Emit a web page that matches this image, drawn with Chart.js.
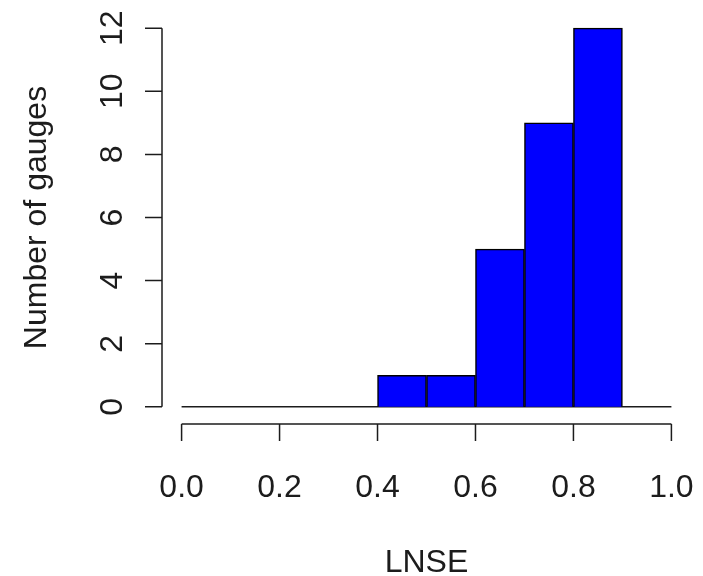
<!DOCTYPE html>
<html lang="en">
<head>
    <meta charset="UTF-8">
    <title>LNSE histogram</title>
    <script src="https://cdn.jsdelivr.net/npm/chart.js"></script>
    <style>
        body {
            margin: 0;
            padding: 0;
            background: #ffffff;
        }
        #histChart {
            display: block;
        }
    </style>
</head>
<body>
<canvas id="histChart" width="703" height="576"></canvas>
<script>
// histogram bins (left edges) and counts
const binEdges = [0.0, 0.1, 0.2, 0.3, 0.4, 0.5, 0.6, 0.7, 0.8, 0.9, 1.0];
const counts = [0, 0, 0, 0, 1, 1, 5, 9, 12, 0];
const xTicks = [0.0, 0.2, 0.4, 0.6, 0.8, 1.0];
const yTicks = [0, 2, 4, 6, 8, 10, 12];
const xTitle = 'LNSE';
const yTitle = 'Number of gauges';

const FONT = '32px "Liberation Sans", Arial, sans-serif';
const INK = '#1c1c1c';

// bars sit at bin centres on a linear axis
const barData = counts.map((c, i) => ({ x: (binEdges[i] + binEdges[i + 1]) / 2, y: c }));
const baseLine = [{ x: binEdges[0], y: 0 }, { x: binEdges[binEdges.length - 1], y: 0 }];

// R style axes: detached from the plot, only spanning the tick range
const rAxes = {
    id: 'rAxes',
    afterDraw(chart) {
        const ctx = chart.ctx;
        const xs = chart.scales.x;
        const ys = chart.scales.y;
        const area = chart.chartArea;
        const tick = 17;

        ctx.save();
        ctx.strokeStyle = INK;
        ctx.fillStyle = INK;
        ctx.lineWidth = 1.5;
        ctx.font = FONT;

        // x axis
        const ay = area.bottom + 2;
        ctx.beginPath();
        ctx.moveTo(xs.getPixelForValue(xTicks[0]), ay);
        ctx.lineTo(xs.getPixelForValue(xTicks[xTicks.length - 1]), ay);
        xTicks.forEach(v => {
            const px = xs.getPixelForValue(v);
            ctx.moveTo(px, ay);
            ctx.lineTo(px, ay + tick);
        });
        ctx.stroke();

        ctx.textAlign = 'center';
        ctx.textBaseline = 'alphabetic';
        xTicks.forEach(v => {
            ctx.fillText(v.toFixed(1), xs.getPixelForValue(v), 497);
        });
        const midX = (xs.getPixelForValue(xTicks[0]) + xs.getPixelForValue(xTicks[xTicks.length - 1])) / 2;
        ctx.fillText(xTitle, midX, 572);

        // y axis
        const ax = area.left;
        ctx.beginPath();
        ctx.moveTo(ax, ys.getPixelForValue(yTicks[0]));
        ctx.lineTo(ax, ys.getPixelForValue(yTicks[yTicks.length - 1]));
        yTicks.forEach(v => {
            const py = ys.getPixelForValue(v);
            ctx.moveTo(ax, py);
            ctx.lineTo(ax - tick, py);
        });
        ctx.stroke();

        yTicks.forEach(v => {
            ctx.save();
            ctx.translate(122, ys.getPixelForValue(v));
            ctx.rotate(-Math.PI / 2);
            ctx.fillText(String(v), 0, 0);
            ctx.restore();
        });

        const midY = (ys.getPixelForValue(yTicks[0]) + ys.getPixelForValue(yTicks[yTicks.length - 1])) / 2;
        ctx.save();
        ctx.translate(46, midY);
        ctx.rotate(-Math.PI / 2);
        ctx.fillText(yTitle, 0, 0);
        ctx.restore();

        ctx.restore();
    }
};

new Chart(document.getElementById('histChart'), {
    type: 'bar',
    data: {
        datasets: [
            {
                type: 'line',
                data: baseLine,
                borderColor: INK,
                borderWidth: 1.5,
                pointRadius: 0,
                order: 2
            },
            {
                data: barData,
                backgroundColor: '#0000ff',
                borderColor: '#000000',
                borderWidth: 1.5,
                barPercentage: 1,
                categoryPercentage: 1,
                order: 1
            }
        ]
    },
    options: {
        responsive: false,
        animation: false,
        layout: {
            padding: { left: 162, right: 12, top: 13, bottom: 154 }
        },
        plugins: {
            legend: { display: false },
            tooltip: { enabled: false }
        },
        scales: {
            x: { type: 'linear', min: -0.04, max: 1.04, offset: false, display: false },
            y: { type: 'linear', min: -0.48, max: 12.48, display: false }
        }
    },
    plugins: [rAxes]
});
</script>
</body>
</html>
